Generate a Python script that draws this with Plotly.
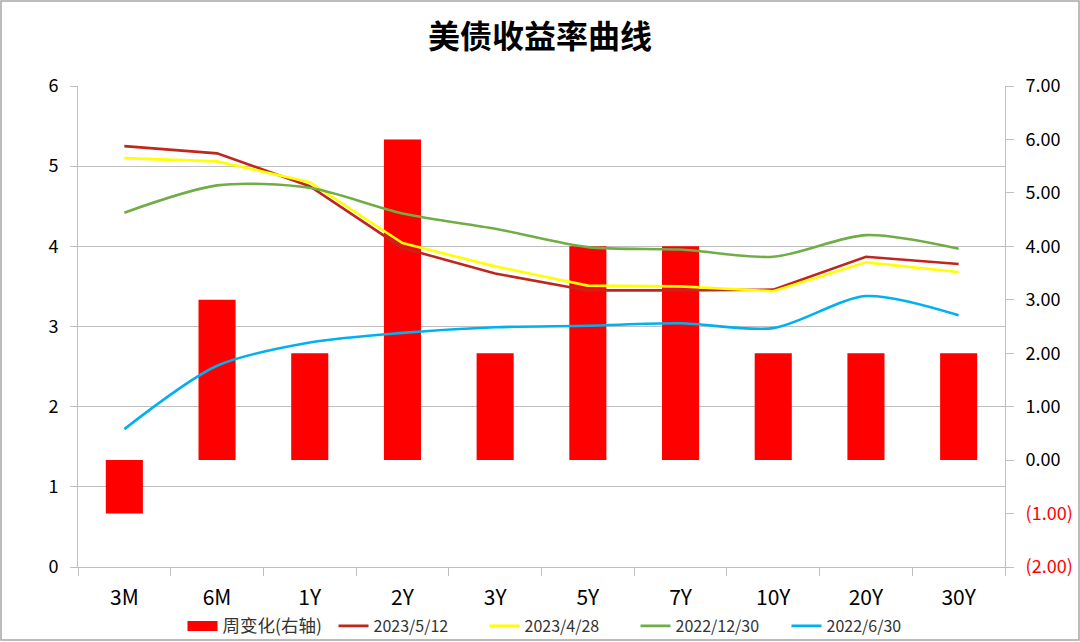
import plotly.graph_objects as go

categories = ["3M", "6M", "1Y", "2Y", "3Y", "5Y", "7Y", "10Y", "20Y", "30Y"]
weekly_change = [-1.00, 3.00, 2.00, 6.00, 2.00, 4.00, 4.00, 2.00, 2.00, 2.00]
y_2023_05_12 = [5.25, 5.16, 4.75, 3.98, 3.66, 3.45, 3.45, 3.46, 3.87, 3.78]
y_2023_04_28 = [5.10, 5.06, 4.80, 4.04, 3.75, 3.51, 3.50, 3.44, 3.80, 3.68]
y_2022_12_30 = [4.42, 4.76, 4.73, 4.41, 4.22, 3.99, 3.96, 3.87, 4.14, 3.97]
y_2022_06_30 = [1.72, 2.51, 2.80, 2.92, 2.99, 3.01, 3.04, 2.98, 3.38, 3.14]
right_ticks = [-2, -1, 0, 1, 2, 3, 4, 5, 6, 7]


def fmt(v):
    if v < 0:
        return "<span style='color:#FF0000'>(%.2f)</span>" % abs(v)
    return "%.2f" % v


FONT = "Noto Sans CJK SC"
W, H = 1080, 642
L, R, T, B = 78, 75, 86, 75
PW, PH = W - L - R, H - T - B

fig = go.Figure()
fig.add_trace(go.Bar(x=categories, y=weekly_change, name="周变化(右轴)",
                     marker=dict(color="#FF0000", line=dict(width=0)),
                     yaxis="y", showlegend=False))
# legend entry for the bars (wide rectangular swatch)
fig.add_trace(go.Scatter(x=[None], y=[None], name="<span style='font-size:17.5px'>周变化(右轴)</span>",
                         mode="lines", line=dict(color="#FF0000", width=14), yaxis="y"))
lines = [
    ("2023/5/12", y_2023_05_12, "#C0271C", "linear"),
    ("2023/4/28", y_2023_04_28, "#FFFF00", "linear"),
    ("2022/12/30", y_2022_12_30, "#70AD47", "spline"),
    ("2022/6/30", y_2022_06_30, "#00B0F0", "spline"),
]
for name, vals, color, shape in lines:
    fig.add_trace(go.Scatter(x=categories, y=vals, name=name, mode="lines",
                             line=dict(color=color, width=2.6, shape=shape, smoothing=0.8),
                             yaxis="y2"))

fig.update_layout(
    width=W, height=H,
    margin=dict(l=L, r=R, t=T, b=B, autoexpand=False),
    paper_bgcolor="white", plot_bgcolor="white",
    font=dict(family=FONT, size=18, color="#000000"),
    title=dict(text="<b>美债收益率曲线</b>", x=0.5, xanchor="center",
               y=1 - 37 / H, yanchor="middle",
               font=dict(family=FONT, size=32, color="#000000")),
    bargap=0.6,
    showlegend=True,
    legend=dict(orientation="h", x=(560 - L) / PW, xanchor="center",
                y=-59 / PH, yanchor="middle",
                font=dict(family=FONT, size=16, color="#333333"),
                itemwidth=30, entrywidth=106, entrywidthmode="pixels",
                tracegroupgap=0, bgcolor="rgba(0,0,0,0)"),
    xaxis=dict(type="category", showline=True, linecolor="#BFBFBF", linewidth=1,
               ticks="outside", tickson="boundaries", ticklen=8, tickcolor="#BFBFBF",
               ticklabelstandoff=12,
               tickfont=dict(size=21, color="#000000"), showgrid=False),
    yaxis=dict(side="right", range=[-2, 7], tickvals=right_ticks,
               ticktext=[fmt(v) for v in right_ticks],
               showline=True, linecolor="#BFBFBF", ticks="outside", ticklen=8,
               tickcolor="#BFBFBF", showgrid=False, zeroline=False,
               ticklabelstandoff=8,
               tickfont=dict(size=18, color="#000000")),
    yaxis2=dict(side="left", overlaying="y", range=[0, 6], dtick=1,
                showline=True, linecolor="#BFBFBF", ticks="outside", ticklen=7,
                tickcolor="#BFBFBF", showgrid=True, gridcolor="#BFBFBF",
                ticklabelstandoff=8,
                zeroline=False, tickfont=dict(size=18, color="#000000")),
    shapes=[dict(type="rect", xref="paper", yref="paper",
                 x0=(1 - L) / PW, x1=(W - 1 - L) / PW,
                 y0=-(B - 2) / PH, y1=1 + (T - 1) / PH,
                 line=dict(color="#A6A6A6", width=1.5), fillcolor="rgba(0,0,0,0)",
                 layer="below")],
)

fig.write_html("out.html", config={"displayModeBar": False})

with open("out.html", "r", encoding="utf-8") as f:
    html = f.read()
html = html.replace("<head>", "<head><style>html,body{margin:0;padding:0;overflow:hidden;}</style>", 1)
with open("out.html", "w", encoding="utf-8") as f:
    f.write(html)
